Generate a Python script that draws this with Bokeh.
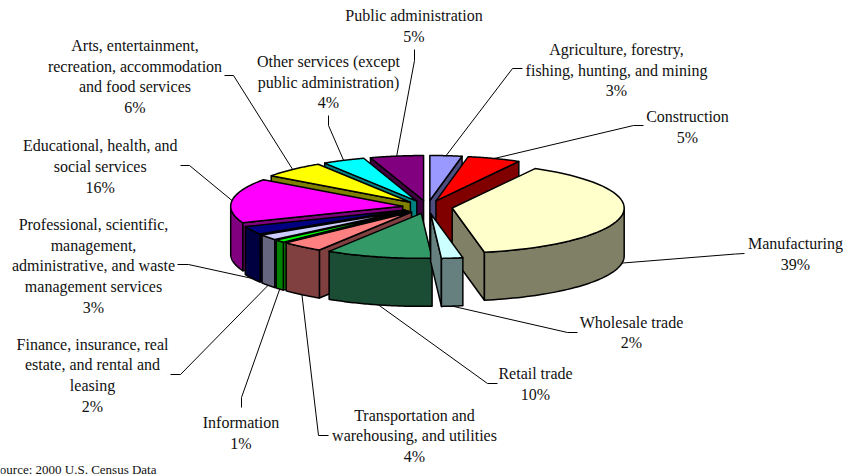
import math
from bokeh.core.properties import value
from bokeh.embed import file_html
from bokeh.models import Range1d
from bokeh.plotting import figure
from bokeh.resources import INLINE

# Employment by industry, in the order the slices run clockwise from twelve o'clock.
industries = [
    ["Agriculture, forestry,", "fishing, hunting, and mining"],
    ["Construction"],
    ["Manufacturing"],
    ["Wholesale trade"],
    ["Retail trade"],
    ["Transportation and", "warehousing, and utilities"],
    ["Information"],
    ["Finance, insurance, real", "estate, and rental and", "leasing"],
    ["Professional, scientific,", "management,", "administrative, and waste", "management services"],
    ["Educational, health, and", "social services"],
    ["Arts, entertainment,", "recreation, accommodation", "and food services"],
    ["Other services (except", "public administration)"],
    ["Public administration"],
]
shares = [3, 5, 39, 2, 10, 4, 1, 2, 3, 16, 6, 4, 5]
top_colors = ["#9999FF", "#FF0000", "#FFFFCC", "#CCFFFF", "#339966", "#FF8080", "#00FF00",
              "#CCCCFF", "#000080", "#FF00FF", "#FFFF00", "#00FFFF", "#800080"]
side_colors = ["#4D4D80", "#800000", "#808066", "#668080", "#1A4D33", "#804040", "#008000",
               "#666680", "#000040", "#800080", "#808000", "#008080", "#400040"]

# Label layout: text centre x, y of each text line, and the leader's elbow and outer end.
label_x = [616, 687, 795, 631, 535, 414, 240.5, 92, 93, 99.7, 134.5, 328, 413.5]
label_y = [
    [49, 70, 90], [116, 137], [243, 264], [322, 342], [373, 394], [415, 435, 456], [422, 443],
    [344, 364, 385, 406], [224, 245, 265, 286, 307], [145, 166, 187], [45, 66, 86, 107],
    [61, 82, 102], [15, 36],
]
leader_elbow = [(512, 68), (633, 125), (735, 253.5), (567, 332), (487, 383), (318, 435), (241, 397),
                (180, 374), (188, 264), (189, 165), (233, 75), (328, 125), (414, 60)]
leader_end = [(522, 68), (643, 125), (744, 253), (577, 332), (497, 383), (328, 435), (241, 407),
              (170, 374), (177, 264), (180, 165), (224, 75), (328, 115), (414, 49)]

CX, CY = 427.0, 206.5     # pie centre
RX, RY = 172.0, 45.0      # ellipse radii of the tilted disc
DEPTH = 48.0              # height of the extruded wall
EXPLODE = 25.0 / 172.0    # pull-out of every slice, as a fraction of the radius
FONT = value("Liberation Serif")
EDGE = 1.5


def rim(apex, deg):
    t = math.radians(deg)
    return apex[0] + RX * math.sin(t), apex[1] - RY * math.cos(t)


def arc(apex, a, b, n=48):
    return [rim(apex, a + (b - a) * k / n) for k in range(n + 1)]


def face(p, pts, color):
    p.patch([q[0] for q in pts], [q[1] for q in pts], fill_color=color,
            line_color="black", line_width=EDGE, line_join="round")


p = figure(width=843, height=475, x_range=Range1d(0, 843), y_range=Range1d(475, 0),
           toolbar_location=None, output_backend="svg", min_border=0,
           x_axis_type=None, y_axis_type=None, outline_line_color=None,
           background_fill_color="white", border_fill_color="white")
p.grid.visible = False

# Angular extent and offset apex of every slice.
total = sum(shares)
slices = []
running = 0
for share in shares:
    a = 360.0 * running / total
    running += share
    b = 360.0 * running / total
    m = math.radians((a + b) / 2)
    apex = (CX + EXPLODE * RX * math.sin(m), CY - EXPLODE * RY * math.cos(m))
    slices.append((a, b, (a + b) / 2, apex))

# Painter's order: slices furthest back go first.
order = sorted(range(len(shares)), key=lambda i: -math.cos(math.radians(slices[i][2])))
for i in order:
    a, b, mid, apex = slices[i]
    down = lambda q: (q[0], q[1] + DEPTH)
    # Radial walls that turn towards the viewer.
    for deg, visible in ((a, math.sin(math.radians(a)) < 0), (b, math.sin(math.radians(b)) > 0)):
        if visible:
            e = rim(apex, deg)
            face(p, [apex, e, down(e), down(apex)], side_colors[i])
    # Curved outer wall, front half of the ellipse only.
    lo, hi = max(a, 90.0), min(b, 270.0)
    if hi > lo:
        top = arc(apex, lo, hi)
        face(p, top + [down(q) for q in reversed(top)], side_colors[i])
    # Top surface.
    face(p, [apex] + arc(apex, a, b), top_colors[i])

# Leader lines run from the middle of each slice's visible rim to its label.
for i, (a, b, mid, apex) in enumerate(slices):
    x0, y0 = rim(apex, mid)
    if math.cos(math.radians(mid)) < 0:
        y0 += DEPTH
    p.line([x0, leader_elbow[i][0], leader_end[i][0]], [y0, leader_elbow[i][1], leader_end[i][1]],
           line_color="black", line_width=1)

# Category names with the share on the last line.
for i, lines in enumerate(industries):
    rows = lines + [f"{shares[i]}%"]
    p.text([label_x[i]] * len(rows), label_y[i], text=rows, text_font=FONT,
           text_font_size="16px", text_color="#111111", text_align="center",
           text_baseline="middle")

p.text([156], [469], text=["Source: 2000 U.S. Census Data"], text_font=FONT,
       text_font_size="13px", text_color="#111111", text_align="right", text_baseline="middle")

open("out.html", "w").write(file_html(p, INLINE))
